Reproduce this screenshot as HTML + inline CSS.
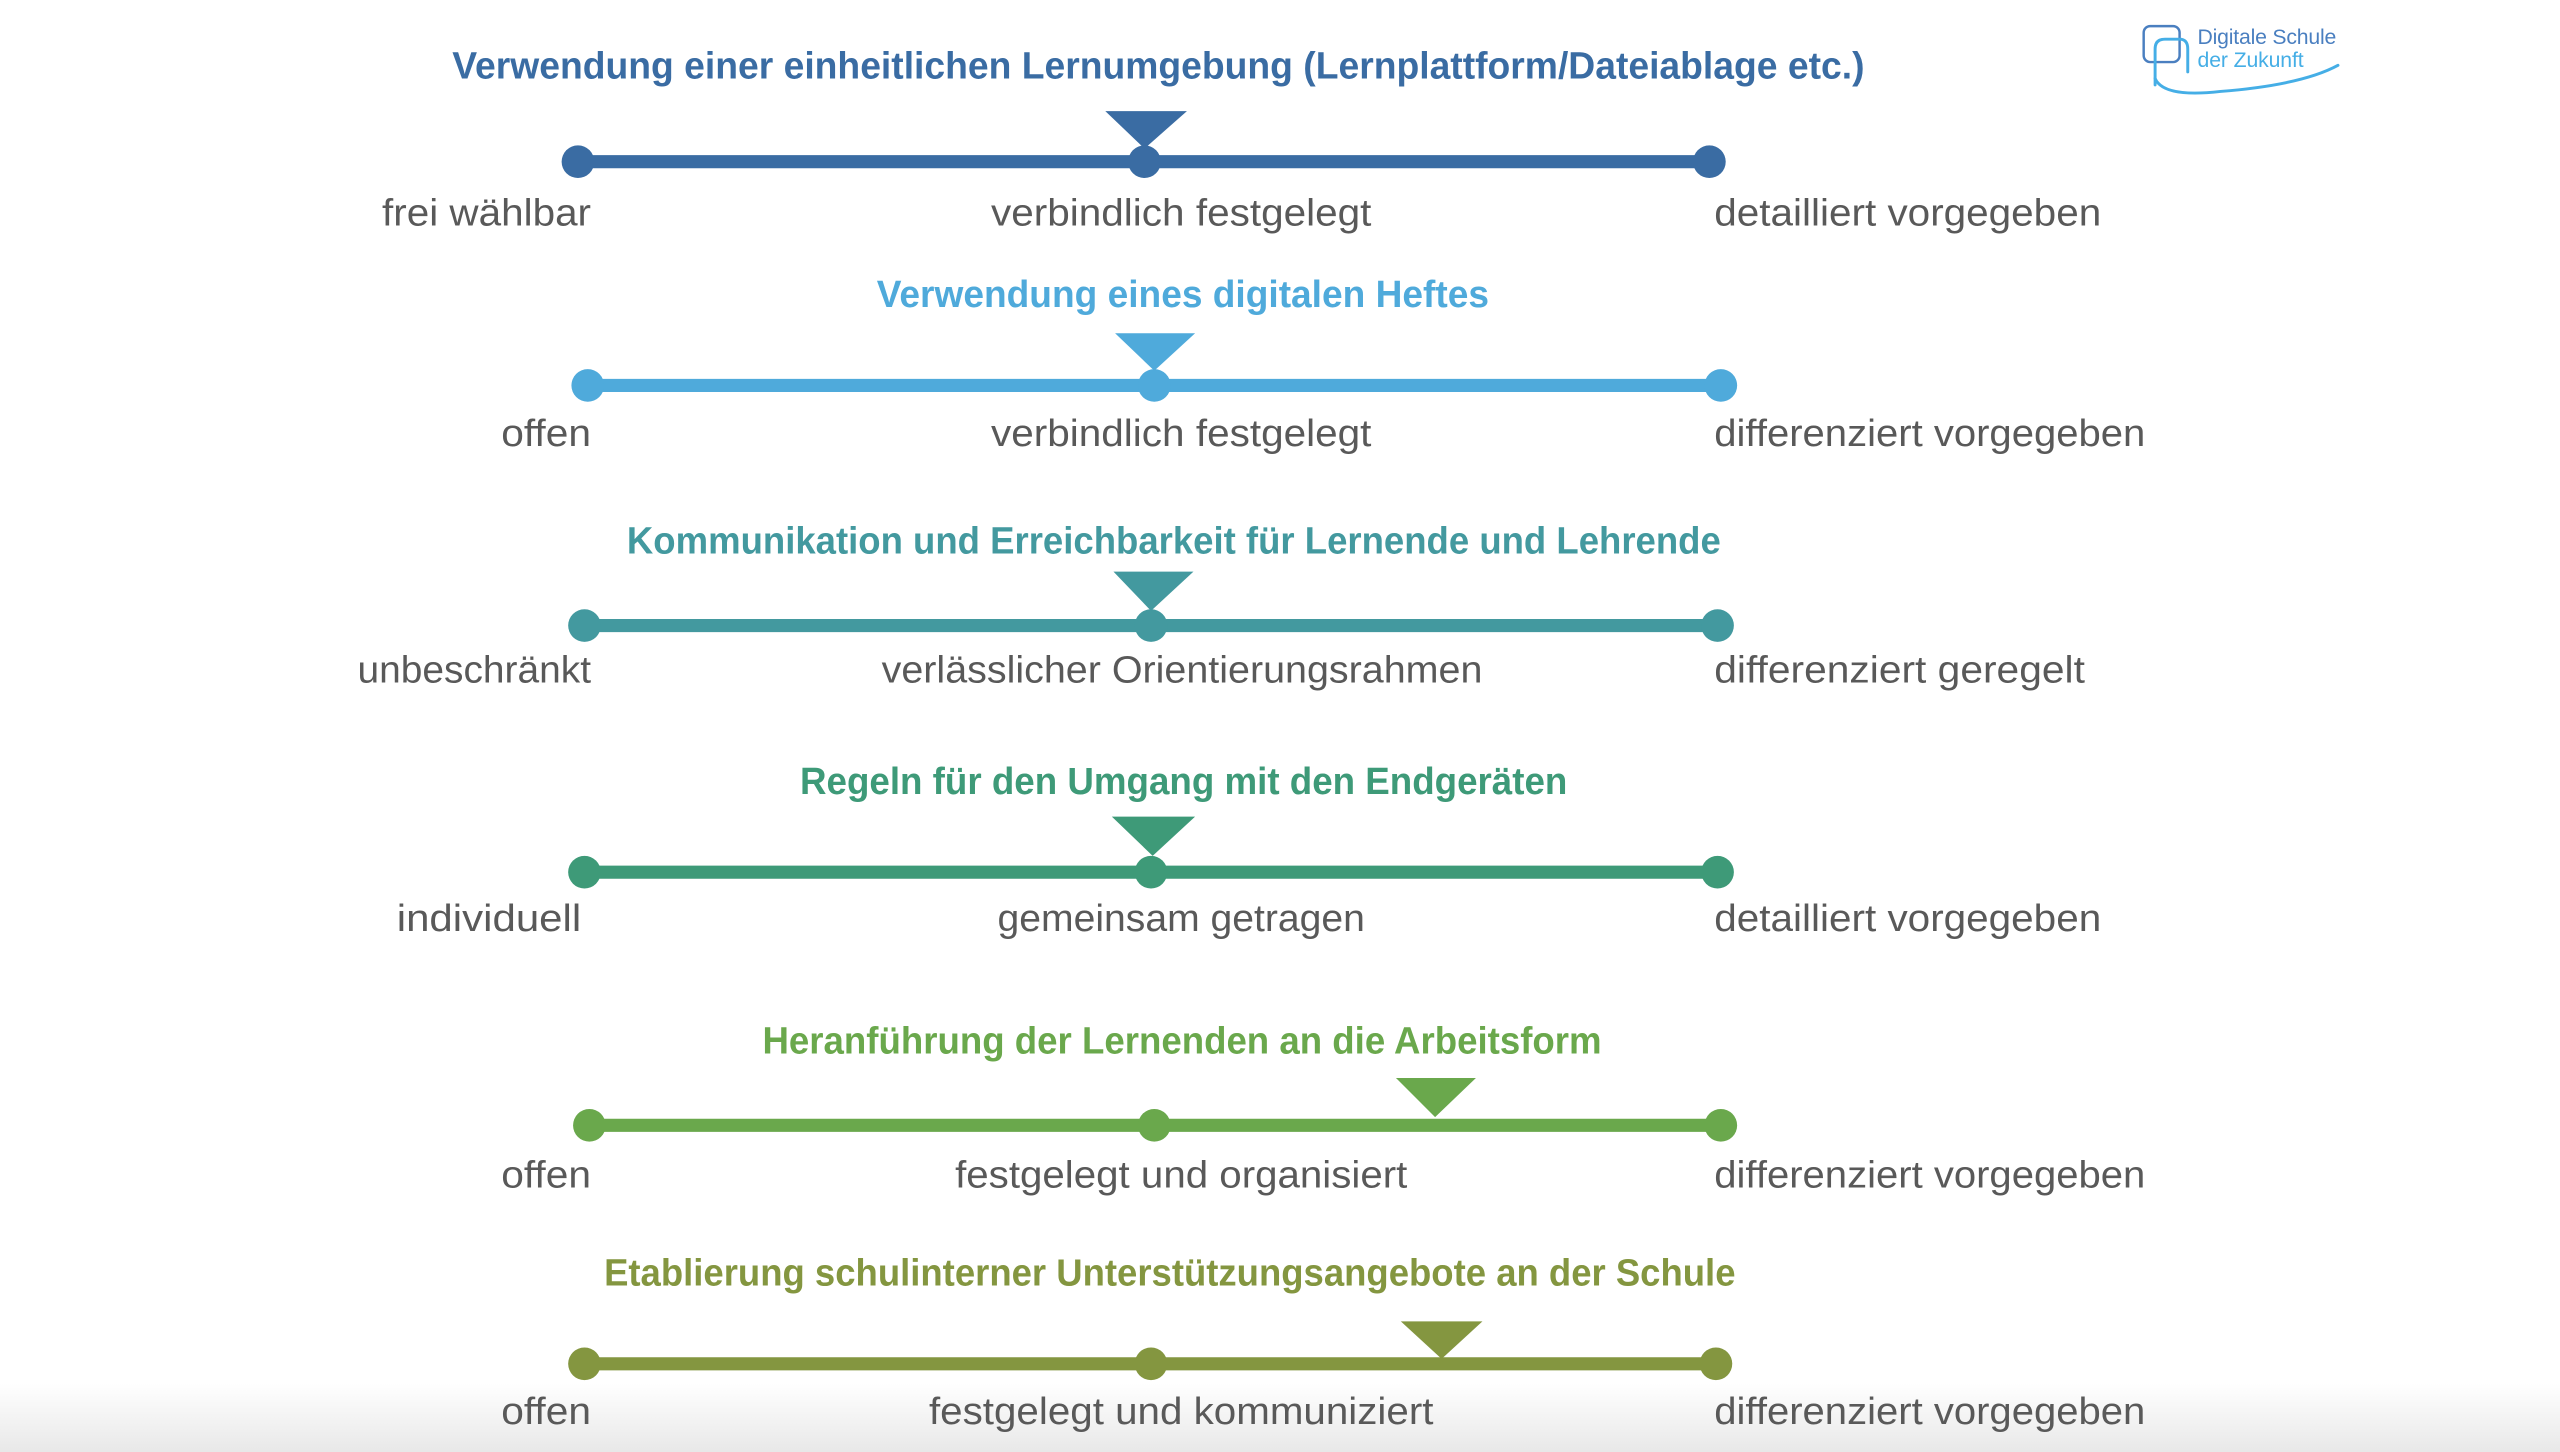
<!DOCTYPE html>
<html><head><meta charset="utf-8"><style>
html,body{margin:0;padding:0;background:#fff;}
svg{display:block;}
.t{font-family:"Liberation Sans Narrow","Liberation Sans",sans-serif;font-weight:bold;font-size:23px;}
.l{font-family:"Liberation Sans Narrow","Liberation Sans",sans-serif;font-size:23px;fill:#595959;}
</style></head><body>
<svg width="2560" height="1452" viewBox="0 0 1568 889" preserveAspectRatio="none" xmlns="http://www.w3.org/2000/svg">
<defs><linearGradient id="g" x1="0" y1="0" x2="0" y2="1"><stop offset="0" stop-color="#fff"/><stop offset="1" stop-color="#e8e8e8"/></linearGradient></defs>
<rect x="0" y="847" width="1568" height="42" fill="url(#g)"/>
<!-- logo -->
<g fill="none" stroke-linecap="round">
<rect x="1313" y="16" width="22" height="22" rx="4" stroke="#4a7fc0" stroke-width="1.5"/>
<path d="M1320 52 L1320 30 Q1320 24 1326 24 L1335 24 Q1340 24 1340 30 L1340 44" stroke="#45aee6" stroke-width="1.8"/>
<path d="M1320 48 Q1325 60 1360 56 Q1410 52 1432 40" stroke="#45aee6" stroke-width="1.8"/>
</g>
<text x="1346" y="27" font-family="Liberation Sans,sans-serif" font-size="13" fill="#4a7fc0" textLength="85">Digitale Schule</text>
<text x="1346" y="41" font-family="Liberation Sans,sans-serif" font-size="13" fill="#45aee6" textLength="65">der Zukunft</text>

<!-- Row 1 -->
<g fill="#3a6ca3" stroke="#3a6ca3">
<text class="t" x="277" y="48" textLength="865" lengthAdjust="spacingAndGlyphs" stroke="none">Verwendung einer einheitlichen Lernumgebung (Lernplattform/Dateiablage etc.)</text>
<line x1="354" y1="99" x2="1047" y2="99" stroke-width="8"/>
<circle cx="354" cy="99" r="10" stroke="none"/><circle cx="701" cy="99" r="10" stroke="none"/><circle cx="1047" cy="99" r="10" stroke="none"/>
<polygon points="677,68 727,68 701,91" stroke="none"/>
</g>
<text class="l" x="362" y="138" text-anchor="end" textLength="128" lengthAdjust="spacingAndGlyphs">frei wählbar</text>
<text class="l" x="607" y="138" textLength="233" lengthAdjust="spacingAndGlyphs">verbindlich festgelegt</text>
<text class="l" x="1050" y="138" textLength="237" lengthAdjust="spacingAndGlyphs">detailliert vorgegeben</text>

<!-- Row 2 -->
<g fill="#4faadb" stroke="#4faadb">
<text class="t" x="537" y="188" textLength="375" lengthAdjust="spacingAndGlyphs" stroke="none">Verwendung eines digitalen Heftes</text>
<line x1="360" y1="236" x2="1054" y2="236" stroke-width="8"/>
<circle cx="360" cy="236" r="10" stroke="none"/><circle cx="707" cy="236" r="10" stroke="none"/><circle cx="1054" cy="236" r="10" stroke="none"/>
<polygon points="683,204 732,204 707,227" stroke="none"/>
</g>
<text class="l" x="362" y="273" text-anchor="end" textLength="55" lengthAdjust="spacingAndGlyphs">offen</text>
<text class="l" x="607" y="273" textLength="233" lengthAdjust="spacingAndGlyphs">verbindlich festgelegt</text>
<text class="l" x="1050" y="273" textLength="264" lengthAdjust="spacingAndGlyphs">differenziert vorgegeben</text>

<!-- Row 3 -->
<g fill="#43999f" stroke="#43999f">
<text class="t" x="384" y="339" textLength="670" lengthAdjust="spacingAndGlyphs" stroke="none">Kommunikation und Erreichbarkeit für Lernende und Lehrende</text>
<line x1="358" y1="383" x2="1052" y2="383" stroke-width="8"/>
<circle cx="358" cy="383" r="10" stroke="none"/><circle cx="705" cy="383" r="10" stroke="none"/><circle cx="1052" cy="383" r="10" stroke="none"/>
<polygon points="682,350 731,350 705,374" stroke="none"/>
</g>
<text class="l" x="362" y="418" text-anchor="end" textLength="143" lengthAdjust="spacingAndGlyphs">unbeschränkt</text>
<text class="l" x="540" y="418" textLength="368" lengthAdjust="spacingAndGlyphs">verlässlicher Orientierungsrahmen</text>
<text class="l" x="1050" y="418" textLength="227" lengthAdjust="spacingAndGlyphs">differenziert geregelt</text>

<!-- Row 4 -->
<g fill="#3e9a78" stroke="#3e9a78">
<text class="t" x="490" y="486" textLength="470" lengthAdjust="spacingAndGlyphs" stroke="none">Regeln für den Umgang mit den Endgeräten</text>
<line x1="358" y1="534" x2="1052" y2="534" stroke-width="8"/>
<circle cx="358" cy="534" r="10" stroke="none"/><circle cx="705" cy="534" r="10" stroke="none"/><circle cx="1052" cy="534" r="10" stroke="none"/>
<polygon points="681,500 732,500 706,524" stroke="none"/>
</g>
<text class="l" x="356" y="570" text-anchor="end" textLength="113" lengthAdjust="spacingAndGlyphs">individuell</text>
<text class="l" x="611" y="570" textLength="225" lengthAdjust="spacingAndGlyphs">gemeinsam getragen</text>
<text class="l" x="1050" y="570" textLength="237" lengthAdjust="spacingAndGlyphs">detailliert vorgegeben</text>

<!-- Row 5 -->
<g fill="#6aa84c" stroke="#6aa84c">
<text class="t" x="467" y="645" textLength="514" lengthAdjust="spacingAndGlyphs" stroke="none">Heranführung der Lernenden an die Arbeitsform</text>
<line x1="361" y1="689" x2="1054" y2="689" stroke-width="8"/>
<circle cx="361" cy="689" r="10" stroke="none"/><circle cx="707" cy="689" r="10" stroke="none"/><circle cx="1054" cy="689" r="10" stroke="none"/>
<polygon points="855,660 904,660 879,684" stroke="none"/>
</g>
<text class="l" x="362" y="727" text-anchor="end" textLength="55" lengthAdjust="spacingAndGlyphs">offen</text>
<text class="l" x="585" y="727" textLength="277" lengthAdjust="spacingAndGlyphs">festgelegt und organisiert</text>
<text class="l" x="1050" y="727" textLength="264" lengthAdjust="spacingAndGlyphs">differenziert vorgegeben</text>

<!-- Row 6 -->
<g fill="#849640" stroke="#849640">
<text class="t" x="370" y="787" textLength="693" lengthAdjust="spacingAndGlyphs" stroke="none">Etablierung schulinterner Unterstützungsangebote an der Schule</text>
<line x1="358" y1="835" x2="1051" y2="835" stroke-width="8"/>
<circle cx="358" cy="835" r="10" stroke="none"/><circle cx="705" cy="835" r="10" stroke="none"/><circle cx="1051" cy="835" r="10" stroke="none"/>
<polygon points="858,809 908,809 883,832" stroke="none"/>
</g>
<text class="l" x="362" y="872" text-anchor="end" textLength="55" lengthAdjust="spacingAndGlyphs">offen</text>
<text class="l" x="569" y="872" textLength="309" lengthAdjust="spacingAndGlyphs">festgelegt und kommuniziert</text>
<text class="l" x="1050" y="872" textLength="264" lengthAdjust="spacingAndGlyphs">differenziert vorgegeben</text>
</svg>
</body></html>
